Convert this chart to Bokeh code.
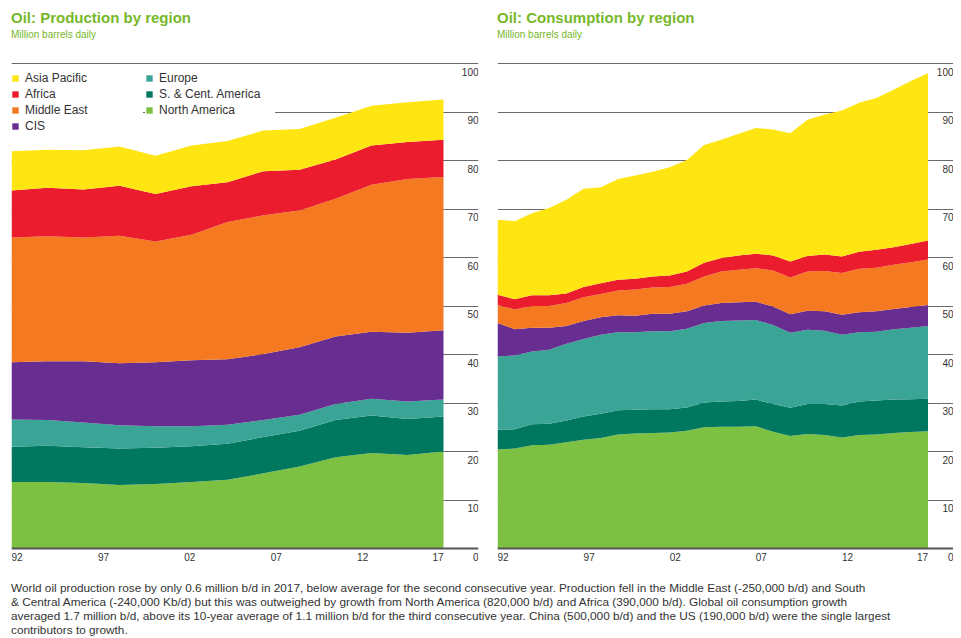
import numpy as np
from bokeh.plotting import figure
from bokeh.models import ColumnDataSource, Range1d, FixedTicker, Span, Legend, LegendItem, Div
from bokeh.layouts import column, row
from bokeh.embed import file_html
from bokeh.resources import INLINE
from bokeh.core.properties import value

# ---------------- data ----------------
regions = ["North America", "S. & Cent. America", "Europe", "CIS",
           "Middle East", "Africa", "Asia Pacific"]
region_colors = ["#7dc142", "#00775f", "#3aa597", "#682d90",
                 "#f47920", "#ec1c2f", "#ffe612"]

# production chart has 13 evenly spaced points over 1992-2017
prod_x = np.linspace(1992, 2017, 13)
prod_north_america = [13.7, 13.7, 13.5, 13.1, 13.3, 13.7, 14.2, 15.5, 16.9, 18.8, 19.7, 19.3, 20.0]
prod_s_cent_america = [7.3, 7.5, 7.4, 7.5, 7.5, 7.4, 7.4, 7.5, 7.4, 7.7, 7.7, 7.4, 7.2]
prod_europe = [5.6, 5.3, 5.1, 4.8, 4.4, 4.1, 3.9, 3.5, 3.3, 3.3, 3.5, 3.6, 3.5]
prod_cis = [11.8, 12.1, 12.6, 12.8, 13.2, 13.6, 13.5, 13.6, 13.9, 13.9, 13.8, 14.2, 14.3]
prod_middle_east = [25.7, 25.8, 25.5, 26.3, 24.9, 25.9, 28.3, 28.6, 28.2, 28.4, 30.3, 31.7, 31.6]
prod_africa = [9.7, 10.0, 9.9, 10.3, 9.8, 10.0, 8.2, 9.1, 8.4, 8.1, 8.1, 7.6, 7.7]
prod_asia_pacific = [8.1, 7.8, 8.1, 8.1, 7.9, 8.4, 8.5, 8.4, 8.4, 8.6, 8.2, 8.2, 8.3]

cons_years = list(range(1992, 2018))
cons_north_america = [20.4, 20.6, 21.3, 21.4, 21.9, 22.4, 22.8, 23.5, 23.7, 23.8, 23.9, 24.3, 25.0,
                      25.1, 25.1, 25.2, 24.1, 23.2, 23.6, 23.4, 22.9, 23.4, 23.5, 23.8, 24.0, 24.2]
cons_s_cent_america = [4.1, 4.0, 4.3, 4.3, 4.5, 4.8, 5.0, 5.0, 4.9, 4.9, 4.8, 4.8, 5.1,
                       5.2, 5.3, 5.5, 5.7, 5.8, 6.2, 6.4, 6.6, 6.9, 7.0, 6.9, 6.8, 6.7]
cons_europe = [15.1, 15.2, 15.0, 15.3, 15.8, 16.0, 16.3, 16.1, 16.0, 16.1, 16.1, 16.2, 16.4,
               16.6, 16.6, 16.4, 16.3, 15.5, 15.3, 15.1, 14.6, 14.3, 14.2, 14.5, 14.7, 15.0]
cons_cis = [6.9, 5.4, 4.9, 4.5, 3.7, 3.7, 3.6, 3.5, 3.4, 3.6, 3.6, 3.6, 3.6,
            3.7, 3.8, 3.8, 3.8, 3.8, 3.9, 4.0, 4.1, 4.1, 4.2, 4.2, 4.3, 4.3]
cons_middle_east = [3.7, 4.1, 4.5, 4.5, 4.7, 4.9, 4.8, 5.1, 5.4, 5.4, 5.5, 5.7, 6.0,
                    6.5, 6.7, 6.9, 7.4, 7.6, 8.1, 8.3, 8.6, 9.0, 9.0, 9.1, 9.2, 9.4]
cons_africa = [2.1, 2.1, 2.2, 2.2, 2.0, 2.1, 2.2, 2.2, 2.2, 2.3, 2.4, 2.5, 2.8,
               2.8, 2.9, 3.0, 3.1, 3.3, 3.2, 3.4, 3.4, 3.5, 3.7, 3.6, 3.8, 3.9]
cons_asia_pacific = [15.5, 16.1, 16.9, 18.0, 19.3, 20.3, 19.8, 20.8, 21.3, 21.6, 22.3, 23.0, 24.3,
                     24.4, 25.1, 25.9, 26.0, 26.4, 28.1, 28.9, 30.1, 30.7, 31.3, 32.5, 33.6, 34.5]

x_tick_years = [1992, 1997, 2002, 2007, 2012, 2017]
x_tick_labels = ["92", "97", "02", "07", "12", "17"]
y_ticks = [0, 10, 20, 30, 40, 50, 60, 70, 80, 90, 100]
y_tick_labels = ["0", "10", "20", "30", "40", "50", "60", "70", "80", "90", "100"]

footer_lines = [
    "World oil production rose by only 0.6 million b/d in 2017, below average for the second consecutive year. Production fell in the Middle East (-250,000 b/d) and South",
    "&amp; Central America (-240,000 Kb/d) but this was outweighed by growth from North America (820,000 b/d) and Africa (390,000 b/d). Global oil consumption growth",
    "averaged 1.7 million b/d, above its 10-year average of 1.1 million b/d for the third consecutive year. China (500,000 b/d) and the US (190,000 b/d) were the single largest",
    "contributors to growth.",
]

# ---------------- style ----------------
FONT = "Liberation Sans"
GREEN = "#77b82b"
TEXT = "#333333"
GRID = "#6a6a6a"
FIG_H = 526
TITLE_H = 34
Y_START, Y_END = -4.12, 104.33


def make_chart(x, series, width, border_left, border_right, x_end):
    p = figure(width=width, height=FIG_H, output_backend="svg", toolbar_location=None,
               x_range=Range1d(1992, x_end), y_range=Range1d(Y_START, Y_END),
               min_border_left=border_left, min_border_right=border_right,
               min_border_top=0, min_border_bottom=0, margin=0)
    p.outline_line_color = None
    p.xaxis.visible = False
    p.yaxis.visible = False
    p.xgrid.visible = False
    p.ygrid.ticker = FixedTicker(ticks=y_ticks[1:])
    p.ygrid.grid_line_color = GRID
    p.ygrid.grid_line_width = 1.2
    p.background_fill_color = "white"
    p.border_fill_color = "white"

    data = {"x": list(x)}
    for name, vals in zip(regions, series):
        data[name] = vals
    src = ColumnDataSource(data)
    rends = p.varea_stack(stackers=regions, x="x", color=region_colors, source=src)

    base = Span(location=0, dimension="width", line_color="#555555", line_width=2, level="overlay")
    p.add_layout(base)

    # y tick labels (right side, just under each gridline)
    ysrc = ColumnDataSource(dict(x=[x_end] * len(y_ticks), y=y_ticks, t=y_tick_labels))
    p.text(x="x", y="y", text="t", source=ysrc, text_align="right", text_baseline="top",
           y_offset=4, text_font=value(FONT), text_font_size="10px", text_color=TEXT)
    # x tick labels
    xsrc = ColumnDataSource(dict(x=x_tick_years[:-1], y=[0] * (len(x_tick_years) - 1), t=x_tick_labels[:-1]))
    p.text(x="x", y="y", text="t", source=xsrc, text_align="left", text_baseline="top",
           y_offset=4, text_font=value(FONT), text_font_size="10px", text_color=TEXT)
    xsrc2 = ColumnDataSource(dict(x=x_tick_years[-1:], y=[0], t=x_tick_labels[-1:]))
    p.text(x="x", y="y", text="t", source=xsrc2, text_align="right", text_baseline="top",
           y_offset=4, text_font=value(FONT), text_font_size="10px", text_color=TEXT)
    return p, rends


prod_series = [prod_north_america, prod_s_cent_america, prod_europe, prod_cis,
               prod_middle_east, prod_africa, prod_asia_pacific]
cons_series = [cons_north_america, cons_s_cent_america, cons_europe, cons_cis,
               cons_middle_east, cons_africa, cons_asia_pacific]

W1, BL1, BR1 = 478, 3, 8
W2, BL2, BR2 = 467, 11, 0
PX_YR1, PX_YR2 = 17.28, 17.22
x_end1 = 1992 + (W1 - BL1 - BR1) / PX_YR1
x_end2 = 1992 + (W2 - BL2 - BR2) / PX_YR2

p1, r1 = make_chart(prod_x, prod_series, W1, BL1, BR1, x_end1)
p2, r2 = make_chart(cons_years, cons_series, W2, BL2, BR2, x_end2)

rmap = dict(zip(regions, r1))


def legend(names, loc, label_width):
    lg = Legend(items=[LegendItem(label=n, renderers=[rmap[n]]) for n in names],
                location=loc, orientation="vertical")
    lg.label_text_font = FONT
    lg.label_text_font_size = "12px"
    lg.label_text_color = TEXT
    lg.glyph_width = 8
    lg.glyph_height = 8
    lg.label_standoff = 6
    lg.label_height = 16
    lg.label_width = label_width
    lg.spacing = 0
    lg.padding = 1
    lg.margin = 0
    lg.border_line_color = None
    lg.background_fill_color = "white"
    lg.background_fill_alpha = 1.0
    return lg


# legend location = (x, y) of the legend's bottom-left corner from the frame's bottom-left
p1.add_layout(legend(["Asia Pacific", "Africa", "Middle East", "CIS"], (0, FIG_H - 92), 118))
p1.add_layout(legend(["Europe", "S. & Cent. America", "North America"], (134, FIG_H - 76), 116))


def title_div(title, width, pad):
    html = (f'<div style="padding-left:{pad}px;font-family:\'{FONT}\',Arial,sans-serif;color:{GREEN};white-space:nowrap">'
            f'<div style="font-size:15px;font-weight:bold;line-height:19px">{title}</div>'
            f'<div style="font-size:10px;line-height:13px;margin-top:1px">Million barrels daily</div></div>')
    return Div(text=html, width=width, height=TITLE_H, margin=0)


t1 = title_div("Oil: Production by region", W1, BL1)
t2 = title_div("Oil: Consumption by region", W2, BL2)

footer_html = (f'<div style="padding-left:3px;padding-top:13px;font-family:\'{FONT}\',Arial,sans-serif;'
               f'font-size:11.8px;line-height:14px;color:{TEXT};white-space:nowrap">'
               + "<br>".join(footer_lines) + "</div>")
footer = Div(text=footer_html, width=W1 + W2, height=62, margin=0)

layout = column(row(t1, t2, spacing=0, margin=0),
                row(p1, p2, spacing=0, margin=0),
                footer, spacing=0, margin=(8, 0, 0, 8))

open("out.html", "w").write(file_html(layout, INLINE))
